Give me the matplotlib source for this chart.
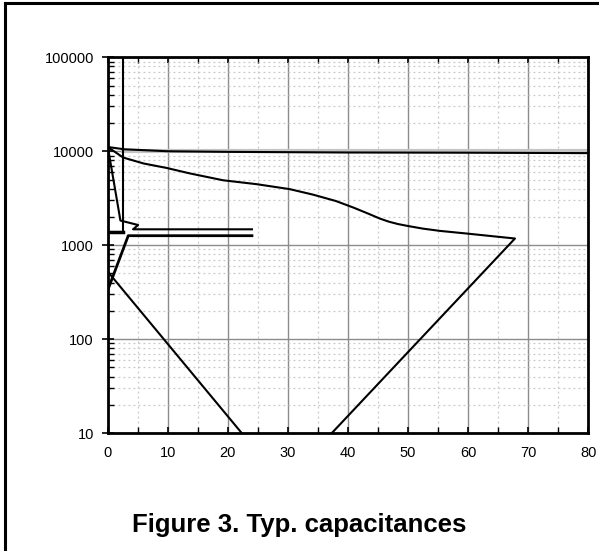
import numpy as np
import matplotlib
matplotlib.use("Agg")
import matplotlib.pyplot as plt
from matplotlib.lines import Line2D
from matplotlib.ticker import FixedLocator, NullFormatter

plt.rcParams['font.family'] = ['Liberation Sans', 'DejaVu Sans']

# curves (x = voltage, y = capacitance)
crss_x = [0.0, 2.5, 2.5]
crss_y = [1380, 1380, 200000]

ciss_flat_x = [0.0, 2.7, 10, 20, 40, 60, 80]
ciss_flat_y = [11100, 10500, 10000, 9850, 9700, 9650, 9550]

ref_x = [2.5, 80]
ref_y = [10000, 10000]

coss_x = [0.0, 2.55, 6, 9.8, 13.7, 19.2, 24.8, 30.3, 34.2, 38, 41, 43.5, 45.3, 46.8, 48.3, 50,
          52.5, 55.3, 59.8, 67.8, 37.3]
coss_y = [11100, 8570, 7400, 6640, 5800, 4910, 4460, 3950, 3450, 2950, 2500, 2150, 1920, 1780, 1680, 1600,
          1500, 1420, 1330, 1178, 10]

zig_x = [0.0, 2.1, 5.05, 4.2, 24.0]
zig_y = [11100, 1830, 1640, 1476, 1476]

low_x = [0.0, 3.4, 24.0]
low_y = [334, 1262, 1262]

diag_x = [0.0, 22.3]
diag_y = [522, 10]

fig = plt.figure(figsize=(5.99, 5.51), dpi=100)
ax = fig.add_axes([0.180, 0.214, 0.802, 0.682])

ax.plot(ref_x, ref_y, color='#c4c4c4', lw=3.0, zorder=2)
ax.plot(crss_x, crss_y, color='black', lw=1.5, zorder=3)
ax.plot(crss_x[:2], crss_y[:2], color='black', lw=2.5, zorder=3)
ax.plot(ciss_flat_x, ciss_flat_y, color='black', lw=1.5, zorder=3)
ax.plot(coss_x, coss_y, color='black', lw=1.5, zorder=3)
ax.plot(zig_x, zig_y, color='black', lw=1.5, zorder=3)
ax.plot(low_x, low_y, color='black', lw=2.0, zorder=3)
ax.plot(diag_x, diag_y, color='black', lw=1.5, zorder=3)

ax.set_yscale('log')
ax.set_xlim(0, 80)
ax.set_ylim(10, 100000)

ax.xaxis.set_major_locator(FixedLocator(np.arange(0, 81, 10)))
ax.xaxis.set_minor_locator(FixedLocator(np.arange(5, 80, 10)))
ax.set_xticklabels([str(v) for v in range(0, 81, 10)])
yt = [10, 100, 1000, 10000, 100000]
ax.yaxis.set_major_locator(FixedLocator(yt))
ax.set_yticklabels([str(v) for v in yt])
ax.yaxis.set_minor_locator(FixedLocator([m * 10 ** e for e in range(1, 5) for m in range(2, 10)]))
ax.yaxis.set_minor_formatter(NullFormatter())

ax.grid(True, which='major', color='#8c8c8c', lw=1.0, ls='-', zorder=1)
ax.grid(True, which='minor', color='#c8c8c8', lw=0.9, ls=(0, (1.5, 2.5)), zorder=1)
ax.set_axisbelow(True)

ax.tick_params(which='major', direction='inout', length=8, width=1.2, labelsize=10.5, colors='black')
ax.tick_params(which='minor', direction='in', length=4, width=1.0)
ax.tick_params(axis='y', which='major', pad=6)
ax.tick_params(axis='x', which='both', top=True)
ax.tick_params(axis='x', which='major', direction='in', length=4, pad=9)
for s in ax.spines.values():
    s.set_linewidth(2.0)

# frame around the figure (left and top only)
fig.add_artist(Line2D([5 / 599, 5 / 599], [0, 1 - 2.5 / 551], transform=fig.transFigure, color='black', lw=2.2))
fig.add_artist(Line2D([5 / 599, 1], [1 - 2.5 / 551, 1 - 2.5 / 551], transform=fig.transFigure, color='black', lw=2.2))

fig.text(0.5, 0.047, 'Figure 3. Typ. capacitances', ha='center', va='center', fontsize=18.5, fontweight='bold')

fig.savefig('out.png', dpi=100)
